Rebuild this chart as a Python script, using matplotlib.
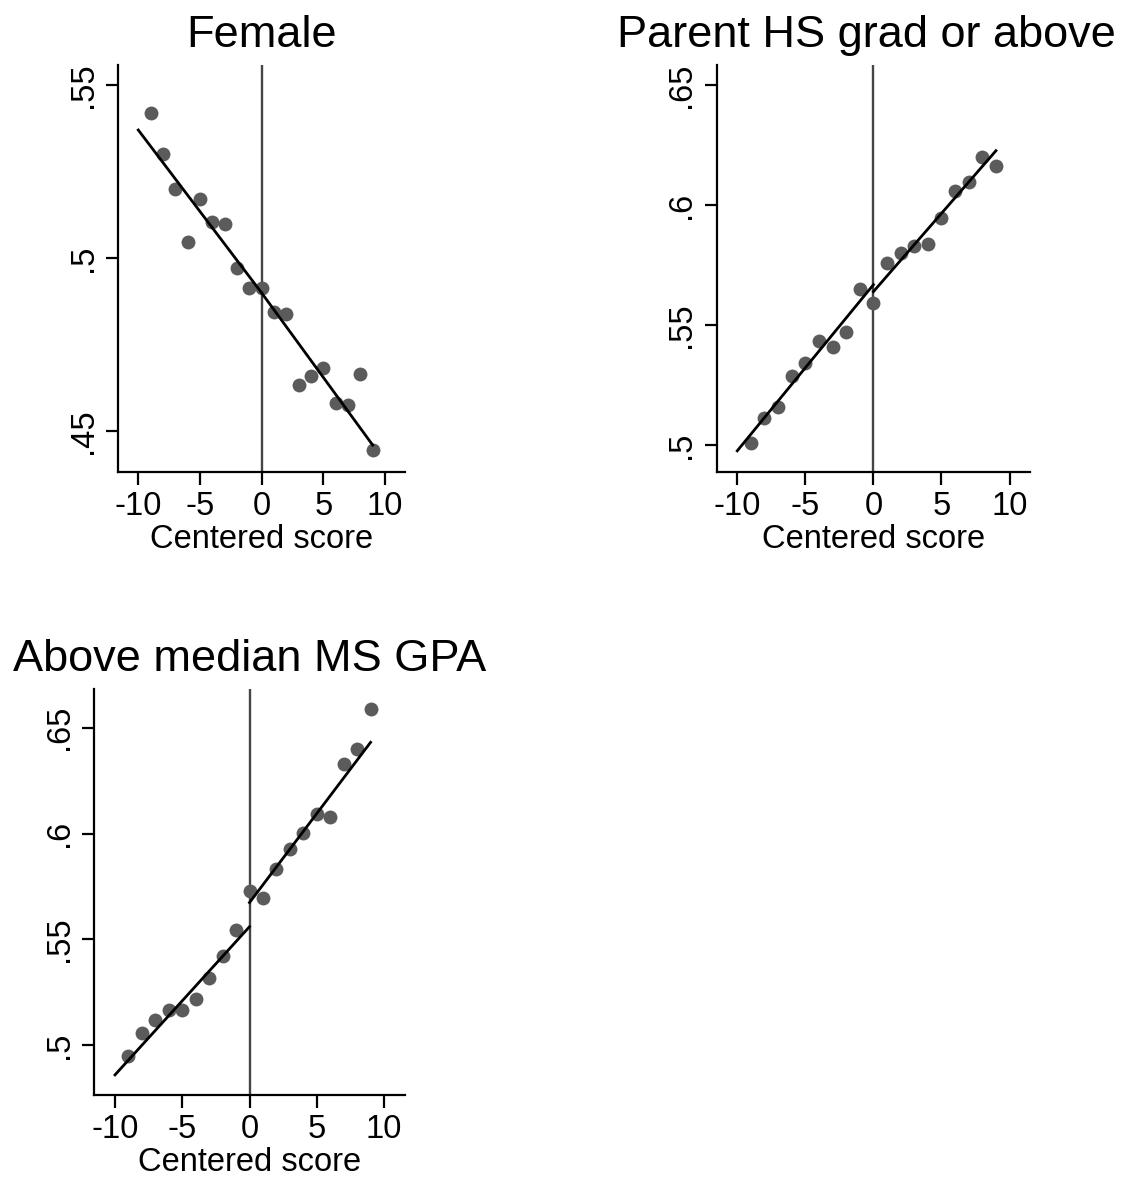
import numpy as np
import matplotlib
matplotlib.use("Agg")
import matplotlib.pyplot as plt

plt.rcParams['font.family'] = ['Liberation Sans', 'DejaVu Sans']

# binned means by centered score
score = [-9, -8, -7, -6, -5, -4, -3, -2, -1, 0, 1, 2, 3, 4, 5, 6, 7, 8, 9]

female = [.542, .530, .520, .5045, .517, .5104, .5097, .4971, .4914, .4912,
          .4843, .4839, .4632, .4658, .4683, .4582, .4575, .4665, .4444]
parent_hs = [.5007, .5111, .516, .5289, .534, .5435, .541, .5472, .5649, .5593,
             .5757, .5799, .5829, .5836, .5944, .606, .6097, .6201, .6162]
gpa = [.4951, .5057, .512, .5167, .5165, .5217, .532, .5422, .5545, .5729,
       .5694, .5831, .5926, .6004, .6092, .608, .6327, .6399, .6588]

# fitted line endpoints (left side -10..0, right side 0..9)
fit_x_left = [-10, 0]
fit_x_right = [0, 9]
female_fit_left = [.537, .4899]
female_fit_right = [.4899, .4459]
parent_fit_left = [.4976, .5668]
parent_fit_right = [.5639, .6226]
gpa_fit_left = [.486, .556]
gpa_fit_right = [.5674, .6431]

panels = [
    ("Female", female, female_fit_left, female_fit_right,
     [.45, .5, .55], ['.45', '.5', '.55'], (.4382, .5558), (-11.62, 11.62)),
    ("Parent HS grad or above", parent_hs, parent_fit_left, parent_fit_right,
     [.5, .55, .6, .65], ['.5', '.55', '.6', '.65'], (.4889, .6583), (-11.51, 11.5)),
    ("Above median MS GPA", gpa, gpa_fit_left, gpa_fit_right,
     [.5, .55, .6, .65], ['.5', '.55', '.6', '.65'], (.4765, .6683), (-11.56, 11.56)),
]

W, H = 1133, 1181
# axes boxes in pixels: left, top, right, bottom
boxes = [(118.3, 65, 405, 471.7),
         (716.7, 65, 1030, 471.7),
         (94, 689, 405, 1095)]
title_x = [0.5, 0.478, 0.5]

fig = plt.figure(figsize=(W / 100, H / 100), dpi=100)

for (title, y, fl, fr, yt, ytl, ylim, xlim), (l, t, r, b), tx in zip(panels, boxes, title_x):
    ax = fig.add_axes([l / W, 1 - b / H, (r - l) / W, (b - t) / H])
    ax.axvline(0, color='#454545', lw=1.7, zorder=1)
    ax.plot(score, y, 'o', color='#5b5b5b', ms=10, mec='none', zorder=2)
    ax.plot(fit_x_left, fl, color='black', lw=2.0, zorder=3)
    ax.plot(fit_x_right, fr, color='black', lw=2.0, zorder=3)
    ax.set_xlim(*xlim)
    ax.set_ylim(*ylim)
    ax.set_xticks([-10, -5, 0, 5, 10])
    ax.set_xticklabels(['-10', '-5', '0', '5', '10'])
    ax.set_yticks(yt)
    ax.set_yticklabels(ytl, rotation=90, va='center')
    ax.spines['top'].set_visible(False)
    ax.spines['right'].set_visible(False)
    for s in ['left', 'bottom']:
        ax.spines[s].set_linewidth(1.6)
    ax.tick_params(labelsize=23.5, length=9, width=1.6, pad=5)
    ax.set_xlabel('Centered score', fontsize=23.5, labelpad=1)
    ax.set_title(title, fontsize=32.5, pad=13, x=tx)

fig.savefig('out.png', dpi=100)
